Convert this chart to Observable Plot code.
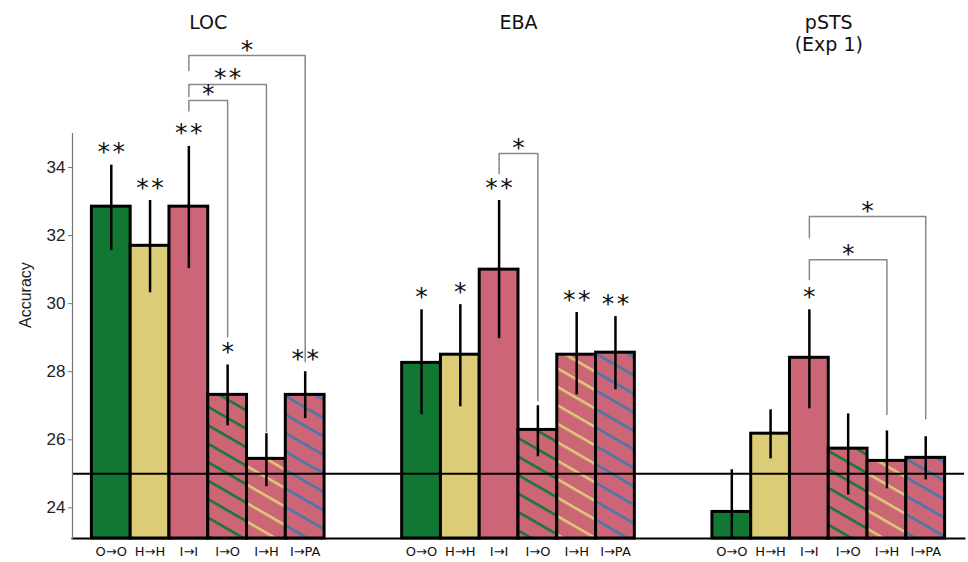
<!DOCTYPE html>
<html><head><meta charset="utf-8">
<script src="https://cdn.jsdelivr.net/npm/d3@7"></script>
<script src="https://cdn.jsdelivr.net/npm/@observablehq/plot@0.6"></script>
<style>body{margin:0;background:#fff}</style>
</head><body><div id="chart"></div>
<script>
// ---- data ----
const groups = ["LOC", "EBA", "pSTS"];
const groupTitles = ["LOC", "EBA", "pSTS\n(Exp 1)"];
const conditions = ["O→O", "H→H", "I→I", "I→O", "I→H", "I→PA"];

const locValues  = [32.85, 31.70, 32.85, 27.32, 25.44, 27.32];
const locHigh    = [34.07, 33.03, 34.62, 28.20, 26.18, 28.00];
const locLow     = [31.56, 30.32, 31.03, 26.41, 24.62, 26.62];
const locStars   = ["**", "**", "**", "*", "", "**"];

const ebaValues  = [28.26, 28.50, 31.00, 26.29, 28.50, 28.56];
const ebaHigh    = [29.82, 29.97, 33.03, 27.00, 29.74, 29.62];
const ebaLow     = [26.74, 26.97, 28.97, 25.50, 27.32, 27.47];
const ebaStars   = ["*", "*", "**", "", "**", "**"];

const pstsValues = [23.88, 26.18, 28.41, 25.74, 25.38, 25.47];
const pstsHigh   = [25.12, 26.88, 29.82, 26.76, 26.26, 26.09];
const pstsLow    = [22.60, 25.44, 26.91, 24.38, 24.56, 24.82];
const pstsStars  = ["", "", "*", "", "", ""];

const yTicks = [24, 26, 28, 30, 32, 34];
const yDomain = [23.1, 35];
const chanceLevel = 25;

// significance brackets (all from I→I)
const bracketGroup    = ["LOC", "LOC", "LOC", "EBA", "pSTS", "pSTS"];
const bracketFrom     = ["I→I", "I→I", "I→I", "I→I", "I→I", "I→I"];
const bracketTo       = ["I→PA", "I→H", "I→O", "I→O", "I→PA", "I→H"];
const bracketTop      = [37.29, 36.44, 35.97, 34.41, 32.56, 31.29];
const bracketLeftEnd  = [36.85, 36.09, 35.66, 33.82, 31.94, 30.71];
const bracketRightEnd = [28.29, 26.24, 29.03, 27.15, 26.62, 26.74];
const bracketLabel    = ["*", "**", "*", "*", "*", "*"];

// ---- colours ----
const green = "#117733", sand = "#DDCC77", rose = "#CC6677", blue = "#4477AA";
const fills = {
  "O→O": green, "H→H": sand, "I→I": rose,
  "I→O": "url(#stripe-green)", "I→H": "url(#stripe-sand)", "I→PA": "url(#stripe-blue)"
};
const stripeDefs = [["stripe-green", green], ["stripe-sand", sand], ["stripe-blue", blue]];

// ---- build tables ----
const GROUP_STEP = 8; // 6 bars + 2 empty slots between groups
const series = {
  LOC: [locValues, locHigh, locLow, locStars],
  EBA: [ebaValues, ebaHigh, ebaLow, ebaStars],
  pSTS: [pstsValues, pstsHigh, pstsLow, pstsStars]
};
const spaced = s => s.split("").join("\u200A");
const slotOf = (g, c) => groups.indexOf(g) * GROUP_STEP + conditions.indexOf(c);
const rows = [];
groups.forEach(g => {
  const [v, hi, lo, st] = series[g];
  conditions.forEach((c, i) => rows.push({
    group: g, cond: c, slot: slotOf(g, c), value: v[i], high: hi[i], low: lo[i],
    stars: spaced(st[i]), fill: fills[c]
  }));
});
const titles = groups.map((g, i) => ({title: groupTitles[i], center: i * GROUP_STEP + conditions.length / 2}));
const brackets = bracketGroup.map((g, i) => ({
  id: i, a: slotOf(g, bracketFrom[i]) + 0.5, b: slotOf(g, bracketTo[i]) + 0.5,
  top: bracketTop[i], l: bracketLeftEnd[i], r: bracketRightEnd[i],
  label: spaced(bracketLabel[i])
}));
const bracketPts = brackets.flatMap(b => [
  {id: b.id, x: b.a, y: b.l}, {id: b.id, x: b.a, y: b.top},
  {id: b.id, x: b.b, y: b.top}, {id: b.id, x: b.b, y: b.r}
]);

const nSlots = (groups.length - 1) * GROUP_STEP + conditions.length;

const svg = Plot.plot({
  width: 968, height: 562,
  marginLeft: 72, marginRight: 4, marginTop: 133, marginBottom: 24,
  style: {fontFamily: "'Liberation Sans', Arial, sans-serif", fontSize: "17px", overflow: "visible", background: "#fff"},
  x: {type: "linear", domain: [-0.5, nSlots + 0.5], axis: null},
  y: {domain: yDomain, axis: null},
  color: {type: "identity"},
  marks: [
    Plot.rectY(rows, {x1: "slot", x2: d => d.slot + 1, y1: yDomain[0], y2: "value",
      fill: d => d.fill, stroke: "black", strokeWidth: 3}),
    Plot.ruleY([chanceLevel], {stroke: "black", strokeWidth: 2}),
    Plot.frame({anchor: "bottom", stroke: "black", strokeWidth: 2}),
    Plot.frame({anchor: "left", stroke: "#777", strokeWidth: 1.2}),
    Plot.axisY({ticks: yTicks, tickSize: 4, tickPadding: 3, stroke: "#777", fill: "#222", fontSize: 17}),
    Plot.text(["Accuracy"], {text: d => d, frameAnchor: "left", rotate: -90, dx: -47, dy: -8, fontSize: 16, fill: "#222"}),
    Plot.ruleX(rows, {x: d => d.slot + 0.5, y1: "low", y2: "high", stroke: "black", strokeWidth: 2.5, clip: true}),
    Plot.text(rows, {x: d => d.slot + 0.5, y: "high", text: "stars", lineAnchor: "bottom", dy: -5,
      fontFamily: "DejaVu Sans", fontSize: 25, fill: "#111"}),
    Plot.line(bracketPts, {x: "x", y: "y", z: "id", stroke: "#888", strokeWidth: 1.5}),
    Plot.text(brackets, {x: d => (d.a + d.b) / 2, y: "top", text: "label", lineAnchor: "bottom", dy: 2,
      fontFamily: "DejaVu Sans", fontSize: 25, fill: "#111"}),
    Plot.text(rows, {x: d => d.slot + 0.5, text: "cond", frameAnchor: "bottom", lineAnchor: "top", dy: 8,
      fontFamily: "DejaVu Sans", fontSize: 13, fill: "#111"}),
    Plot.text(titles, {x: "center", text: "title", frameAnchor: "top", lineAnchor: "top", dy: -121,
      fontFamily: "DejaVu Sans", fontSize: 19, lineHeight: 1.2, fill: "#111"})
  ]
});

const defs = d3.select(svg).insert("defs", ":first-child");
stripeDefs.forEach(([id, color]) => {
  const p = defs.append("pattern").attr("id", id).attr("patternUnits", "userSpaceOnUse")
    .attr("width", 16).attr("height", 16).attr("patternTransform", "rotate(30)");
  p.append("rect").attr("width", 16).attr("height", 16).attr("fill", rose);
  p.append("rect").attr("y", 7).attr("width", 16).attr("height", 2.5).attr("fill", color);
});

document.getElementById("chart").appendChild(svg);
</script>
</body></html>
